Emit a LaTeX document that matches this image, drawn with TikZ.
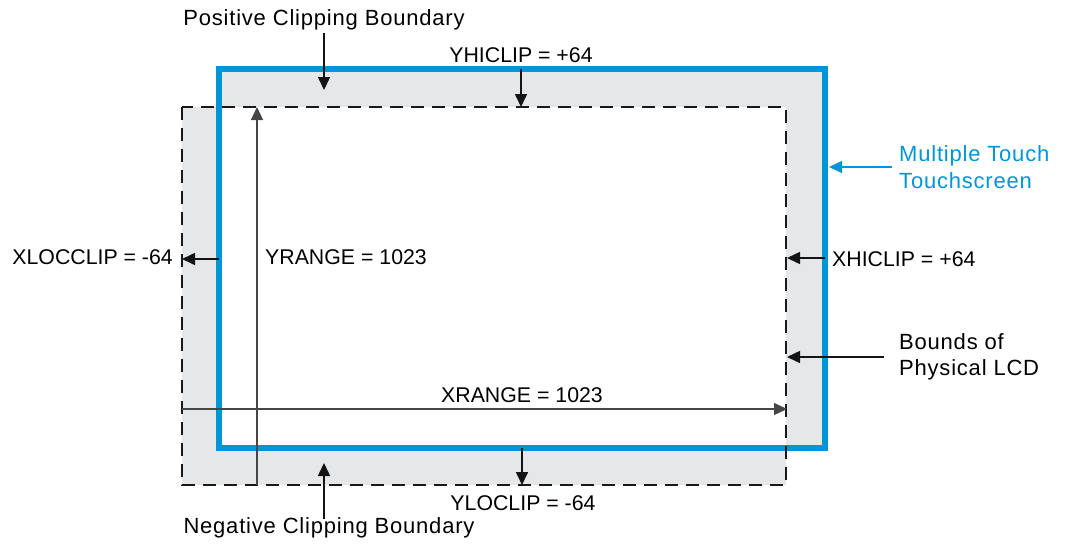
\documentclass[tikz,border=0pt]{standalone}
\usepackage{fontspec}
\setmainfont{Liberation Sans}
\newfontfamily\notefont[LetterSpace=3.6]{Liberation Sans}
\usetikzlibrary{arrows.meta,calc,positioning}
\definecolor{touchblue}{RGB}{0,150,214}
\definecolor{clipgray}{RGB}{230,231,232}
\definecolor{rangegray}{RGB}{70,70,70}
\tikzset{
  lbl/.style={
    inner sep=0pt,
    font=\fontsize{21.3}{26.5}\selectfont
  },
  note/.style={
    inner sep=0pt,
    font=\notefont\fontsize{22}{26.5}\selectfont
  },
  touchedge/.style={
    draw=touchblue,
    line width=6pt
  },
  lcdedge/.style={
    draw=black!90,
    line width=2.9pt,
    dash pattern=on 13pt off 8pt
  },
  arrow/.style={
    -{Triangle[length=13pt,width=12pt]},
    line width=1.6pt,
    black!92
  },
  rangeline/.style={
    -{Triangle[length=13pt,width=12pt]},
    line width=1.1pt,
    rangegray
  }
}

\begin{document}
\begin{tikzpicture}[x=1pt,y=-1pt]
\useasboundingbox (0,0) rectangle (1070,552);
% touchscreen and lcd outlines
\coordinate (tsNW) at (219,69);
\coordinate (tsSE) at (825,448);
\coordinate (lcdNW) at (182,107);
\coordinate (lcdSE) at (786,485);
\fill[clipgray,even odd rule] (tsNW) rectangle (tsSE) (lcdNW) rectangle (lcdSE);
\draw[touchedge] (tsNW) rectangle (tsSE);
\draw[lcdedge] (lcdNW) rectangle (lcdSE);

% labels
\node[note,anchor=base] (poslbl) at (324,25) {Positive Clipping Boundary};
\node[lbl,anchor=base] (yhilbl) at (521,62) {YHICLIP = +64};
\node[lbl,anchor=base east] (xlolbl) at (173,264) {XLOCCLIP = -64};
\node[lbl,anchor=base west] (yrnglbl) at (265,264) {YRANGE = 1023};
\node[lbl,anchor=base west] (xhilbl) at (832,266) {XHICLIP = +64};
\node[lbl,anchor=base] (xrnglbl) at (522,402) {XRANGE = 1023};
\node[lbl,anchor=base] (ylolbl) at (523,510) {YLOCLIP = -64};
\node[note,anchor=base] (neglbl) at (329,533) {Negative Clipping Boundary};
\node[note,align=left,anchor=west,text=touchblue] (touchlbl) at (899,167) {Multiple Touch\\Touchscreen};
\node[note,align=left,anchor=west] (lcdlbl) at (899,357) {Bounds of\\Physical LCD};

% arrow ends
\coordinate (posTip) at (324,90);
\coordinate (xloTail) at (219,259);
\coordinate (xloTip) at (182,259);
\coordinate (xhiTail) at (825,258);
\coordinate (xhiTip) at (787,258);
\coordinate (touchTip) at (829,167);
\coordinate (lcdTip) at (787,357);
\coordinate (yrngBot) at (257,485);
\coordinate (yrngTop) at (257,107);
\coordinate (xrngLeft) at (182,409);
\coordinate (xrngRight) at (787,409);
\coordinate (ylo) at (522,448);
\coordinate (negTail) at (324,519);
\coordinate (negTip) at (324,463);

\draw[arrow,shorten <=3pt] (poslbl.south) -- (posTip);
\draw[arrow] (tsNW -| yhilbl) -- (lcdNW -| yhilbl);
\draw[arrow] (xloTail) -- (xloTip);
\draw[arrow] (xhiTail) -- (xhiTip);
\draw[arrow,touchblue] ([xshift=-7pt]touchlbl.west) -- (touchTip);
\draw[arrow] ([xshift=-15pt]lcdlbl.west) -- (lcdTip);
\draw[rangeline] (yrngBot) -- (yrngTop);
\draw[rangeline] (xrngLeft) -- (xrngRight);
\draw[arrow] (ylo) -- (ylo |- lcdSE);
\draw[arrow] (negTail) -- (negTip);
\end{tikzpicture}
\end{document}
